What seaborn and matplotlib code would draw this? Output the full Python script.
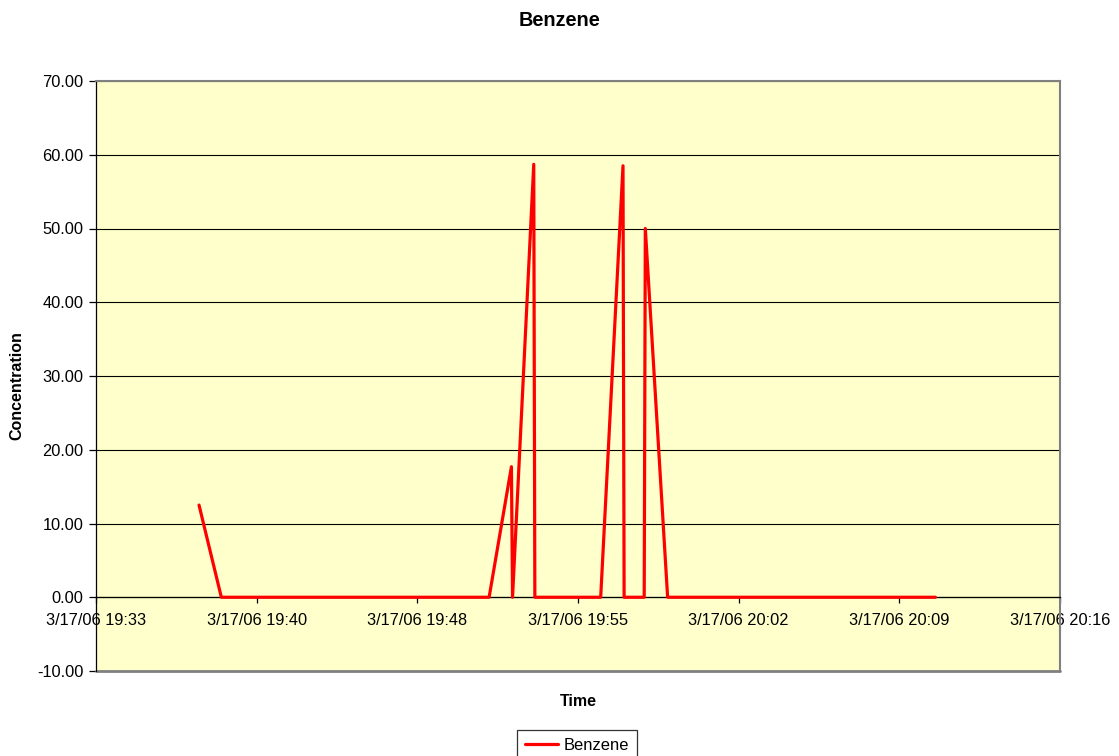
import matplotlib
matplotlib.use("Agg")
import matplotlib.pyplot as plt
import matplotlib.dates as mdates
import seaborn as sns
import pandas as pd

# ---------- data ----------
DATE = "2006-03-17"

TIMES = [
    "19:38:13", "19:39:13", "19:40:13", "19:41:13", "19:42:13", "19:43:13",
    "19:44:13", "19:45:13", "19:46:13", "19:47:13", "19:48:13", "19:49:13",
    "19:50:13", "19:51:13", "19:52:13", "19:52:16", "19:53:13", "19:53:16",
    "19:54:13", "19:55:13", "19:56:13", "19:57:13", "19:57:16", "19:58:10",
    "19:58:13", "19:59:13", "20:00:13", "20:01:13", "20:02:13", "20:03:13",
    "20:04:13", "20:05:13", "20:06:13", "20:07:13", "20:08:13", "20:09:13",
    "20:10:13", "20:11:13",
]

BENZENE = [
    12.5, 0.0, 0.0, 0.0, 0.0, 0.0,
    0.0, 0.0, 0.0, 0.0, 0.0, 0.0,
    0.0, 0.0, 17.7, 0.0, 58.7, 0.0,
    0.0, 0.0, 0.0, 58.5, 0.0, 0.0,
    50.0, 0.0, 0.0, 0.0, 0.0, 0.0,
    0.0, 0.0, 0.0, 0.0, 0.0, 0.0,
    0.0, 0.0,
]

X_TICK_LABELS = [
    "3/17/06 19:33", "3/17/06 19:40", "3/17/06 19:48", "3/17/06 19:55",
    "3/17/06 20:02", "3/17/06 20:09", "3/17/06 20:16",
]
X_START = "19:33:36"
X_STEP_MIN = 7.2

Y_TICKS = [-10, 0, 10, 20, 30, 40, 50, 60, 70]

# ---------- style ----------
sns.set_style("white")
plt.rcParams["font.family"] = ["Liberation Sans", "DejaVu Sans"]
plt.rcParams["text.color"] = "black"

df = pd.DataFrame({
    "time": pd.to_datetime([DATE + " " + t for t in TIMES]),
    "Benzene": BENZENE,
})

fig = plt.figure(figsize=(11.19, 7.56), dpi=100)
fig.patch.set_facecolor("white")
ax = fig.add_axes([96 / 1119, 1 - 671 / 756, 964 / 1119, 590 / 756])
ax.set_facecolor("#FFFFCC")

sns.lineplot(
    data=df, x="time", y="Benzene",
    color="#FF0000", linewidth=2.3,
    sort=False, estimator=None,
    label="Benzene", ax=ax, zorder=3,
)

# x axis (time)
x0 = pd.Timestamp(DATE + " " + X_START)
tick_pos = [mdates.date2num(x0 + pd.Timedelta(minutes=X_STEP_MIN * i))
            for i in range(len(X_TICK_LABELS))]
ax.set_xlim(tick_pos[0], tick_pos[-1])
ax.set_xticks(tick_pos)
ax.set_xticklabels(X_TICK_LABELS)

# y axis
ax.set_ylim(Y_TICKS[0], Y_TICKS[-1])
ax.set_yticks(Y_TICKS)
ax.set_yticklabels([f"{v:.2f}" for v in Y_TICKS])

ax.yaxis.grid(True, color="black", linewidth=0.8)
ax.set_axisbelow(True)

ax.spines["bottom"].set_position(("data", 0))
ax.spines["bottom"].set_color("black")
ax.spines["bottom"].set_linewidth(0.9)
ax.spines["left"].set_color("black")
ax.spines["left"].set_linewidth(0.9)
for side in ["top", "right"]:
    ax.spines[side].set_color("#808080")
    ax.spines[side].set_linewidth(1.5)
ax.axhline(Y_TICKS[0], color="#808080", linewidth=2.0, clip_on=False, zorder=2.5)

ax.tick_params(axis="x", direction="out", length=4, width=0.9, pad=7,
               labelsize=11.8, colors="black", bottom=True)
ax.tick_params(axis="y", direction="out", length=5, width=0.9, pad=4,
               labelsize=11.8, colors="black", left=True)

ax.set_xlabel("")
ax.set_ylabel("")

# titles
fig.text(559 / 1119, 1 - 20 / 756, "Benzene", ha="center", va="center",
         fontsize=14.3, fontweight="bold", color="black")
fig.text(578 / 1119, 1 - 701 / 756, "Time", ha="center", va="center",
         fontsize=11.5, fontweight="bold", color="black")
fig.text(17 / 1119, 1 - 386 / 756, "Concentration", ha="center", va="center",
         rotation=90, fontsize=11.5, fontweight="bold", color="black")

# legend
ax.legend_.remove()
leg = fig.legend(
    *ax.get_legend_handles_labels(),
    loc="upper center", bbox_to_anchor=(577 / 1119, 1 - 730 / 756),
    frameon=True, fancybox=False, shadow=False, fontsize=11.9,
    handlelength=2.0, handletextpad=0.3, borderpad=0.5, borderaxespad=0,
)
leg.get_frame().set_edgecolor("black")
leg.get_frame().set_linewidth(0.9)
for t in leg.get_texts():
    t.set_color("black")

fig.savefig("out.png", dpi=100, facecolor="white")
